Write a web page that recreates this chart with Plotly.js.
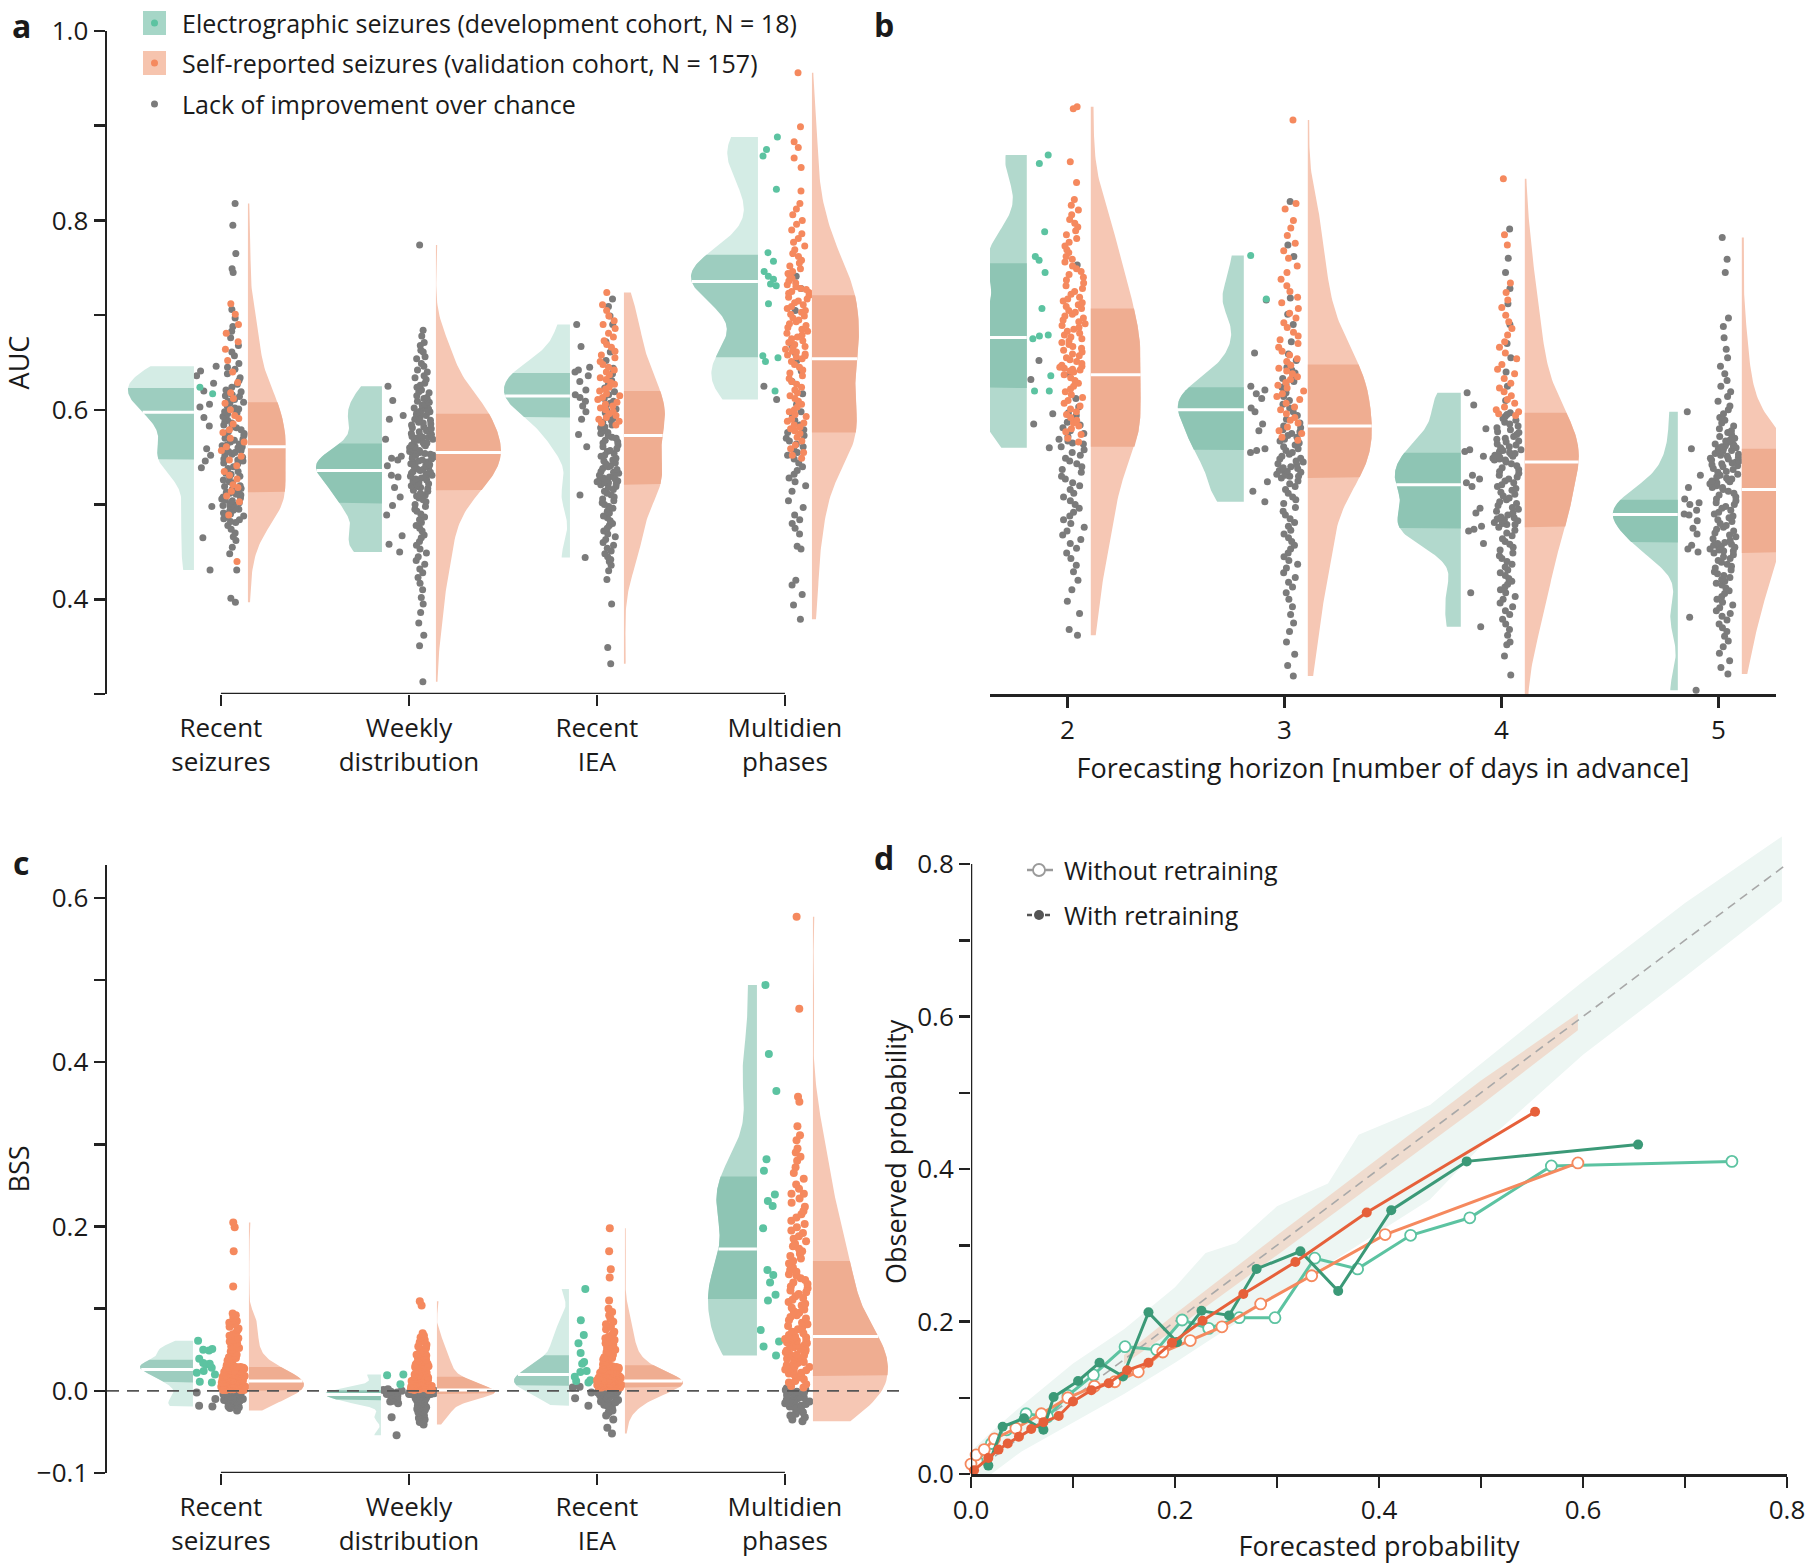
<!DOCTYPE html>
<html><head><meta charset="utf-8">
<script src="https://cdn.plot.ly/plotly-3.0.1.min.js"></script>
<style>html,body{margin:0;padding:0;background:#fff;}#chart{width:1812px;height:1567px;}</style>
</head><body><div id="chart"></div>
<script>
// ---------------- DATA ----------------
const CAT_LABELS = ['Recent<br>seizures','Weekly<br>distribution','Recent<br>IEA','Multidien<br>phases'];
const HORIZONS = [2,3,4,5];

// Panel a (AUC by feature); dev = development cohort (N=18), val = validation cohort (N=157)
// *_sig = improvement over chance, *_ns = lack of improvement over chance
const a_rs_dev_sig = [0.624,0.617];
const a_rs_dev_ns = [0.646,0.641,0.636,0.628,0.620,0.606,0.603,0.592,0.583,0.559,0.552,0.546,0.539,0.498,0.465,0.431];
const a_rs_val_sig = [0.712,0.701,0.690,0.681,0.672,0.664,0.652,0.640,0.629,0.618,0.612,0.607,0.600,0.594,0.591,0.585,0.579,0.576,0.570,0.566,0.561,0.557,0.551,0.547,0.541,0.535,0.531,0.527,0.521,0.518,0.514,0.509,0.503,0.489,0.440];
const a_rs_val_ns = [0.818,0.795,0.765,0.749,0.745,0.706,0.697,0.688,0.683,0.676,0.668,0.661,0.657,0.649,0.645,0.643,0.638,0.634,0.631,0.627,0.624,0.621,0.619,0.616,0.615,0.614,0.611,0.609,0.608,0.607,0.604,0.602,0.601,0.599,0.598,0.597,0.596,0.593,0.591,0.589,0.588,0.586,0.584,0.582,0.581,0.579,0.577,0.575,0.574,0.573,0.570,0.569,0.568,0.566,0.564,0.563,0.562,0.561,0.560,0.558,0.557,0.556,0.555,0.553,0.552,0.550,0.548,0.547,0.546,0.544,0.543,0.540,0.538,0.535,0.533,0.532,0.530,0.529,0.526,0.524,0.523,0.520,0.519,0.517,0.516,0.515,0.513,0.512,0.511,0.510,0.508,0.507,0.506,0.505,0.504,0.502,0.501,0.500,0.499,0.498,0.496,0.495,0.494,0.493,0.491,0.490,0.488,0.487,0.485,0.484,0.482,0.481,0.478,0.474,0.470,0.466,0.462,0.455,0.448,0.431,0.401,0.397];

const a_wk_dev_sig = [];
const a_wk_dev_ns = [0.625,0.610,0.594,0.590,0.569,0.551,0.549,0.547,0.541,0.531,0.529,0.518,0.508,0.499,0.489,0.467,0.458,0.450];
const a_wk_val_sig = [];
const a_wk_val_ns = [0.774,0.684,0.678,0.671,0.668,0.663,0.661,0.656,0.654,0.649,0.646,0.642,0.640,0.636,0.634,0.632,0.628,0.626,0.624,0.621,0.619,0.618,0.615,0.613,0.612,0.611,0.609,0.608,0.606,0.605,0.605,0.603,0.602,0.601,0.600,0.599,0.598,0.598,0.597,0.596,0.595,0.594,0.592,0.591,0.590,0.589,0.587,0.586,0.585,0.584,0.582,0.581,0.580,0.579,0.578,0.577,0.575,0.574,0.573,0.572,0.571,0.570,0.569,0.568,0.567,0.566,0.565,0.564,0.563,0.562,0.561,0.560,0.559,0.558,0.558,0.557,0.556,0.555,0.554,0.553,0.552,0.551,0.550,0.549,0.548,0.547,0.546,0.545,0.544,0.543,0.542,0.541,0.540,0.539,0.538,0.537,0.536,0.535,0.534,0.533,0.532,0.531,0.530,0.529,0.528,0.527,0.526,0.525,0.523,0.522,0.521,0.520,0.519,0.518,0.517,0.515,0.514,0.512,0.510,0.509,0.507,0.505,0.503,0.500,0.498,0.495,0.493,0.490,0.487,0.484,0.481,0.478,0.475,0.472,0.468,0.465,0.461,0.457,0.453,0.449,0.445,0.441,0.437,0.432,0.428,0.423,0.417,0.410,0.402,0.395,0.386,0.375,0.362,0.351,0.313,0.552,0.571];

const a_iea_dev_sig = [];
const a_iea_dev_ns = [0.690,0.667,0.645,0.642,0.640,0.636,0.630,0.621,0.616,0.613,0.609,0.604,0.598,0.590,0.574,0.561,0.510,0.444];
const a_iea_val_sig = [0.724,0.711,0.705,0.699,0.694,0.690,0.686,0.681,0.677,0.673,0.669,0.666,0.662,0.658,0.655,0.651,0.648,0.645,0.642,0.640,0.637,0.634,0.632,0.629,0.627,0.624,0.622,0.620,0.617,0.615,0.613,0.611,0.608,0.606,0.604,0.602,0.600,0.598,0.596,0.594,0.592,0.590,0.588,0.586,0.584];
const a_iea_val_ns = [0.717,0.709,0.699,0.690,0.672,0.661,0.652,0.644,0.638,0.631,0.627,0.623,0.619,0.616,0.612,0.609,0.607,0.605,0.601,0.599,0.597,0.593,0.591,0.589,0.587,0.584,0.582,0.581,0.579,0.578,0.577,0.576,0.575,0.573,0.571,0.570,0.568,0.566,0.565,0.563,0.561,0.559,0.557,0.556,0.554,0.552,0.551,0.549,0.547,0.546,0.544,0.543,0.541,0.540,0.538,0.537,0.535,0.534,0.533,0.531,0.530,0.529,0.528,0.527,0.526,0.526,0.525,0.524,0.524,0.523,0.523,0.522,0.521,0.519,0.518,0.516,0.514,0.512,0.510,0.508,0.506,0.504,0.502,0.500,0.498,0.496,0.493,0.491,0.488,0.486,0.483,0.480,0.478,0.475,0.472,0.469,0.466,0.463,0.460,0.457,0.454,0.451,0.448,0.445,0.442,0.440,0.436,0.430,0.421,0.395,0.349,0.332];

const a_md_dev_sig = [0.888,0.875,0.868,0.833,0.766,0.757,0.746,0.741,0.738,0.733,0.731,0.712,0.657,0.655,0.651,0.620];
const a_md_dev_ns = [0.625,0.611];
const a_md_val_sig = [0.956,0.899,0.883,0.877,0.866,0.856,0.831,0.818,0.812,0.806,0.800,0.796,0.790,0.786,0.781,0.777,0.773,0.769,0.765,0.762,0.758,0.755,0.752,0.749,0.746,0.744,0.741,0.739,0.736,0.734,0.732,0.730,0.728,0.727,0.725,0.724,0.723,0.721,0.719,0.717,0.715,0.713,0.711,0.709,0.707,0.705,0.703,0.701,0.699,0.697,0.695,0.693,0.691,0.689,0.687,0.685,0.683,0.681,0.679,0.677,0.675,0.673,0.671,0.669,0.667,0.665,0.664,0.662,0.661,0.659,0.658,0.657,0.656,0.654,0.651,0.648,0.645,0.642,0.639,0.636,0.633,0.630,0.627,0.624,0.621,0.618,0.615,0.612,0.609,0.606,0.603,0.600,0.598,0.595,0.593,0.590,0.588,0.586,0.584,0.582,0.580,0.578,0.575,0.571,0.567,0.563,0.559,0.555,0.552,0.549];
const a_md_val_ns = [0.741,0.728,0.705,0.668,0.660,0.652,0.641,0.630,0.617,0.606,0.598,0.593,0.589,0.584,0.579,0.576,0.573,0.570,0.567,0.564,0.561,0.558,0.555,0.552,0.548,0.544,0.540,0.536,0.532,0.528,0.524,0.520,0.514,0.504,0.497,0.489,0.484,0.480,0.475,0.469,0.456,0.453,0.420,0.415,0.405,0.394,0.379];

// Panel b (AUC by forecasting horizon)
const b_h2_dev_sig = [0.869,0.860,0.788,0.762,0.758,0.745,0.707,0.679,0.678,0.675,0.636,0.620,0.620];
const b_h2_dev_ns = [0.652,0.632,0.596,0.585,0.560];
const b_h2_val_sig = [0.920,0.918,0.862,0.840,0.822,0.816,0.811,0.806,0.801,0.797,0.793,0.789,0.785,0.781,0.777,0.773,0.769,0.766,0.762,0.759,0.756,0.752,0.749,0.746,0.743,0.740,0.737,0.734,0.731,0.728,0.725,0.722,0.719,0.717,0.715,0.713,0.711,0.709,0.707,0.705,0.703,0.701,0.699,0.697,0.695,0.693,0.691,0.689,0.687,0.685,0.683,0.681,0.679,0.677,0.675,0.673,0.671,0.669,0.667,0.665,0.663,0.661,0.659,0.657,0.655,0.653,0.651,0.649,0.647,0.646,0.645,0.644,0.643,0.642,0.641,0.640,0.637,0.634,0.631,0.628,0.625,0.622,0.619,0.616,0.613,0.610,0.607,0.604,0.601,0.598,0.595,0.592,0.589,0.586,0.583,0.580,0.577,0.574,0.570,0.566];
const b_h2_val_ns = [0.753,0.638,0.612,0.603,0.597,0.594,0.590,0.587,0.584,0.581,0.578,0.575,0.572,0.569,0.567,0.565,0.564,0.561,0.558,0.555,0.552,0.549,0.546,0.543,0.540,0.537,0.534,0.530,0.527,0.523,0.520,0.516,0.512,0.508,0.504,0.500,0.496,0.492,0.488,0.484,0.480,0.476,0.472,0.468,0.463,0.459,0.454,0.449,0.443,0.436,0.429,0.420,0.410,0.398,0.385,0.368,0.362];

const b_h3_dev_sig = [0.763,0.717];
const b_h3_dev_ns = [0.716,0.660,0.625,0.621,0.617,0.612,0.602,0.598,0.585,0.578,0.559,0.557,0.555,0.524,0.514,0.503];
const b_h3_val_sig = [0.906,0.818,0.812,0.800,0.792,0.784,0.776,0.768,0.760,0.752,0.745,0.738,0.731,0.725,0.719,0.713,0.707,0.702,0.697,0.692,0.687,0.682,0.678,0.674,0.670,0.666,0.662,0.658,0.654,0.651,0.647,0.644,0.641,0.638,0.635,0.632,0.629,0.626,0.623,0.620,0.617,0.614,0.611,0.607,0.603,0.600,0.596,0.592,0.589,0.586,0.582,0.578,0.575,0.571,0.568];
const b_h3_val_ns = [0.820,0.774,0.762,0.718,0.701,0.690,0.672,0.659,0.652,0.648,0.645,0.642,0.639,0.636,0.633,0.630,0.627,0.624,0.621,0.618,0.614,0.610,0.606,0.602,0.598,0.594,0.590,0.586,0.583,0.581,0.579,0.577,0.575,0.573,0.571,0.569,0.567,0.565,0.563,0.561,0.559,0.557,0.555,0.553,0.551,0.549,0.548,0.546,0.545,0.543,0.542,0.540,0.539,0.538,0.536,0.535,0.534,0.533,0.532,0.531,0.530,0.530,0.528,0.525,0.522,0.519,0.516,0.512,0.508,0.505,0.501,0.497,0.493,0.489,0.485,0.481,0.477,0.473,0.469,0.465,0.461,0.457,0.453,0.449,0.445,0.441,0.437,0.433,0.428,0.423,0.418,0.413,0.407,0.400,0.392,0.384,0.375,0.366,0.355,0.342,0.330,0.319];

const b_h4_dev_sig = [];
const b_h4_dev_ns = [0.618,0.605,0.580,0.558,0.556,0.551,0.531,0.527,0.523,0.519,0.496,0.491,0.477,0.474,0.472,0.459,0.407,0.371];
const b_h4_val_sig = [0.844,0.785,0.774,0.734,0.724,0.716,0.708,0.700,0.693,0.686,0.679,0.672,0.666,0.660,0.654,0.648,0.643,0.638,0.633,0.628,0.623,0.619,0.615,0.611,0.607,0.603,0.600,0.598,0.596,0.594];
const b_h4_val_ns = [0.791,0.760,0.745,0.728,0.712,0.690,0.670,0.655,0.640,0.625,0.610,0.597,0.595,0.593,0.591,0.589,0.587,0.585,0.583,0.581,0.579,0.577,0.576,0.574,0.572,0.570,0.569,0.567,0.566,0.564,0.563,0.561,0.560,0.558,0.557,0.556,0.555,0.554,0.553,0.552,0.551,0.550,0.549,0.549,0.548,0.548,0.547,0.547,0.545,0.543,0.541,0.539,0.537,0.535,0.533,0.531,0.529,0.527,0.525,0.523,0.521,0.519,0.517,0.515,0.513,0.511,0.509,0.507,0.505,0.503,0.501,0.499,0.497,0.495,0.493,0.491,0.489,0.487,0.486,0.485,0.484,0.483,0.482,0.481,0.480,0.479,0.479,0.476,0.473,0.470,0.467,0.464,0.461,0.458,0.455,0.452,0.449,0.446,0.443,0.440,0.437,0.434,0.431,0.428,0.425,0.422,0.419,0.416,0.413,0.410,0.407,0.403,0.400,0.396,0.392,0.388,0.384,0.379,0.374,0.368,0.362,0.355,0.352,0.340,0.320,0.290,0.250];

const b_h5_dev_sig = [];
const b_h5_dev_ns = [0.598,0.559,0.531,0.518,0.506,0.502,0.500,0.494,0.490,0.489,0.483,0.475,0.469,0.457,0.453,0.450,0.381,0.304];
const b_h5_val_sig = [];
const b_h5_val_ns = [0.782,0.759,0.745,0.697,0.688,0.676,0.664,0.655,0.646,0.638,0.631,0.625,0.619,0.614,0.609,0.604,0.600,0.596,0.592,0.589,0.586,0.583,0.580,0.578,0.576,0.574,0.572,0.570,0.568,0.567,0.566,0.565,0.564,0.563,0.562,0.561,0.561,0.560,0.560,0.559,0.558,0.557,0.556,0.555,0.554,0.553,0.552,0.551,0.550,0.549,0.548,0.547,0.546,0.545,0.544,0.543,0.542,0.541,0.540,0.538,0.537,0.535,0.534,0.532,0.531,0.529,0.528,0.527,0.526,0.525,0.524,0.523,0.522,0.521,0.520,0.519,0.518,0.518,0.516,0.514,0.512,0.510,0.508,0.506,0.504,0.502,0.500,0.498,0.496,0.494,0.492,0.490,0.488,0.486,0.484,0.482,0.480,0.478,0.476,0.474,0.472,0.470,0.468,0.466,0.464,0.462,0.460,0.459,0.458,0.457,0.456,0.455,0.454,0.453,0.452,0.451,0.451,0.449,0.447,0.445,0.443,0.441,0.439,0.437,0.435,0.433,0.431,0.429,0.427,0.425,0.423,0.421,0.419,0.417,0.415,0.412,0.409,0.406,0.403,0.400,0.397,0.394,0.391,0.388,0.385,0.382,0.378,0.374,0.370,0.366,0.361,0.356,0.350,0.343,0.335,0.328,0.321];

// Panel c (BSS by feature)
const c_rs_dev_sig = [0.061,0.051,0.050,0.049,0.039,0.034,0.033,0.032,0.028,0.024,0.022,0.020,0.011,0.010];
const c_rs_dev_ns = [-0.002,-0.010,-0.018,-0.019];
const c_rs_val_sig = [0.205,0.199,0.170,0.127,0.094,0.092,0.089,0.087,0.085,0.083,0.081,0.078,0.076,0.074,0.071,0.069,0.067,0.064,0.062,0.060,0.058,0.056,0.054,0.052,0.050,0.048,0.046,0.044,0.043,0.041,0.040,0.038,0.037,0.035,0.034,0.033,0.032,0.031,0.030,0.029,0.029,0.028,0.028,0.027,0.027,0.026,0.026,0.025,0.025,0.024,0.024,0.023,0.023,0.022,0.022,0.021,0.021,0.020,0.020,0.019,0.019,0.019,0.018,0.018,0.017,0.017,0.016,0.016,0.016,0.015,0.015,0.014,0.014,0.014,0.013,0.013,0.013,0.012,0.012,0.012,0.012,0.011,0.011,0.011,0.011,0.010,0.010,0.010,0.010,0.009,0.009,0.009,0.008,0.008,0.008,0.007,0.007,0.007,0.006,0.006,0.006,0.005,0.005,0.005,0.004,0.004,0.004,0.003,0.003,0.003,0.002,0.002,0.002,0.001,0.001,0.001,0.001];
const c_rs_val_ns = [0.000,-0.001,-0.001,-0.001,-0.002,-0.002,-0.003,-0.003,-0.003,-0.004,-0.004,-0.005,-0.005,-0.005,-0.006,-0.006,-0.006,-0.007,-0.007,-0.008,-0.008,-0.009,-0.009,-0.010,-0.010,-0.011,-0.011,-0.012,-0.012,-0.013,-0.013,-0.014,-0.015,-0.016,-0.017,-0.018,-0.019,-0.020,-0.021,-0.024];

const c_wk_dev_sig = [0.020,0.019,0.008];
const c_wk_dev_ns = [0.002,0.001,0.000,-0.001,-0.002,-0.004,-0.005,-0.006,-0.008,-0.010,-0.012,-0.013,-0.015,-0.032,-0.054];
const c_wk_val_sig = [0.109,0.104,0.070,0.067,0.065,0.062,0.059,0.056,0.054,0.052,0.050,0.048,0.046,0.045,0.044,0.043,0.041,0.040,0.038,0.037,0.036,0.035,0.034,0.033,0.032,0.031,0.030,0.029,0.028,0.027,0.026,0.025,0.024,0.023,0.022,0.021,0.020,0.019,0.018,0.017,0.017,0.016,0.016,0.015,0.015,0.014,0.014,0.013,0.013,0.012,0.012,0.011,0.011,0.010,0.010,0.010,0.009,0.009,0.008,0.008,0.007,0.007,0.006,0.006,0.006,0.005,0.005,0.005,0.004,0.004,0.004,0.003,0.003,0.003,0.002,0.002,0.002,0.001,0.001,0.001];
const c_wk_val_ns = [0.000,0.000,0.000,0.000,-0.001,-0.001,-0.001,-0.001,-0.001,-0.001,-0.002,-0.002,-0.002,-0.002,-0.002,-0.002,-0.002,-0.002,-0.003,-0.003,-0.003,-0.003,-0.003,-0.003,-0.003,-0.003,-0.003,-0.003,-0.004,-0.004,-0.004,-0.004,-0.004,-0.004,-0.004,-0.004,-0.004,-0.004,-0.005,-0.005,-0.006,-0.006,-0.007,-0.007,-0.008,-0.008,-0.009,-0.009,-0.010,-0.010,-0.011,-0.011,-0.012,-0.012,-0.013,-0.014,-0.015,-0.016,-0.017,-0.018,-0.019,-0.020,-0.021,-0.022,-0.023,-0.024,-0.025,-0.026,-0.027,-0.028,-0.029,-0.030,-0.031,-0.033,-0.035,-0.038,-0.041];

const c_iea_dev_sig = [0.124,0.086,0.068,0.058,0.046,0.035,0.033,0.024,0.023,0.017,0.013,0.012,0.010];
const c_iea_dev_ns = [0.005,0.004,-0.002,-0.009,-0.018];
const c_iea_val_sig = [0.198,0.170,0.148,0.138,0.110,0.100,0.096,0.092,0.088,0.084,0.081,0.078,0.075,0.072,0.070,0.068,0.066,0.064,0.062,0.060,0.058,0.056,0.054,0.052,0.050,0.048,0.047,0.046,0.044,0.042,0.041,0.040,0.039,0.038,0.036,0.035,0.034,0.033,0.032,0.031,0.030,0.029,0.029,0.028,0.027,0.027,0.026,0.025,0.025,0.024,0.023,0.023,0.022,0.022,0.021,0.021,0.020,0.020,0.019,0.019,0.018,0.018,0.017,0.017,0.016,0.016,0.016,0.015,0.015,0.015,0.014,0.014,0.014,0.013,0.013,0.013,0.013,0.013,0.012,0.012,0.012,0.012,0.012,0.011,0.011,0.011,0.011,0.011,0.010,0.010,0.010,0.010,0.010,0.009,0.009,0.009,0.009,0.009,0.008,0.008,0.008,0.008,0.007,0.007,0.007,0.007,0.006,0.006,0.006,0.006,0.005,0.005,0.005,0.005,0.004,0.004,0.004,0.004];
const c_iea_val_ns = [0.003,0.002,0.002,0.001,0.001,0.000,0.000,-0.001,-0.001,-0.002,-0.002,-0.003,-0.003,-0.004,-0.004,-0.005,-0.005,-0.006,-0.006,-0.007,-0.008,-0.009,-0.010,-0.011,-0.012,-0.013,-0.014,-0.015,-0.016,-0.017,-0.018,-0.020,-0.022,-0.024,-0.026,-0.030,-0.035,-0.045,-0.052];

const c_md_dev_sig = [0.494,0.410,0.365,0.282,0.268,0.239,0.231,0.225,0.198,0.147,0.141,0.132,0.117,0.110,0.074,0.060,0.054,0.043];
const c_md_dev_ns = [];
const c_md_val_sig = [0.577,0.465,0.358,0.352,0.322,0.311,0.305,0.295,0.290,0.285,0.280,0.272,0.265,0.258,0.251,0.246,0.240,0.240,0.234,0.229,0.224,0.219,0.215,0.211,0.207,0.203,0.199,0.195,0.192,0.188,0.185,0.182,0.179,0.176,0.173,0.170,0.167,0.164,0.161,0.158,0.155,0.152,0.150,0.147,0.145,0.142,0.140,0.137,0.135,0.132,0.130,0.127,0.125,0.122,0.120,0.118,0.115,0.113,0.111,0.108,0.106,0.104,0.101,0.099,0.097,0.095,0.092,0.090,0.088,0.086,0.083,0.081,0.079,0.077,0.075,0.072,0.070,0.068,0.066,0.065,0.064,0.063,0.062,0.061,0.060,0.059,0.058,0.056,0.055,0.054,0.053,0.051,0.050,0.049,0.048,0.047,0.045,0.044,0.043,0.042,0.040,0.039,0.038,0.036,0.035,0.034,0.033,0.031,0.030,0.029,0.027,0.026,0.025,0.024,0.022,0.021,0.020,0.018,0.016,0.014,0.012,0.010,0.008,0.006,0.004];
const c_md_val_ns = [0.003,0.002,0.001,0.000,-0.001,-0.002,-0.003,-0.004,-0.005,-0.006,-0.007,-0.008,-0.009,-0.010,-0.011,-0.012,-0.013,-0.014,-0.015,-0.016,-0.017,-0.018,-0.019,-0.020,-0.022,-0.024,-0.026,-0.028,-0.030,-0.032,-0.035,-0.037];

// Panel d (calibration)
const d_dev_wo_x = [0.006,0.020,0.035,0.054,0.075,0.095,0.120,0.151,0.182,0.207,0.233,0.263,0.298,0.337,0.379,0.431,0.489,0.569,0.746];
const d_dev_wo_y = [0.017,0.040,0.058,0.079,0.075,0.103,0.130,0.167,0.163,0.202,0.191,0.205,0.205,0.283,0.269,0.313,0.336,0.404,0.410];
const d_dev_w_x = [0.017,0.031,0.052,0.071,0.081,0.105,0.126,0.149,0.174,0.202,0.226,0.253,0.280,0.323,0.360,0.412,0.486,0.654];
const d_dev_w_y = [0.011,0.062,0.073,0.058,0.101,0.122,0.146,0.128,0.212,0.173,0.214,0.208,0.269,0.292,0.240,0.346,0.410,0.432];
const d_val_wo_x = [0.000,0.005,0.013,0.023,0.044,0.069,0.095,0.121,0.141,0.164,0.188,0.215,0.246,0.284,0.334,0.406,0.595];
const d_val_wo_y = [0.013,0.025,0.032,0.046,0.060,0.079,0.100,0.115,0.121,0.134,0.160,0.175,0.193,0.223,0.260,0.314,0.408];
const d_val_w_x = [0.003,0.017,0.027,0.036,0.047,0.059,0.071,0.086,0.100,0.118,0.135,0.153,0.174,0.197,0.227,0.267,0.318,0.388,0.553];
const d_val_w_y = [0.005,0.021,0.032,0.040,0.049,0.059,0.068,0.076,0.095,0.110,0.119,0.136,0.146,0.172,0.201,0.236,0.278,0.343,0.475];
const d_band_x = [0,0.02,0.05,0.1,0.15,0.2,0.23,0.26,0.3,0.35,0.38,0.45,0.5,0.6,0.7,0.795];
const d_band_hi = [0.03,0.055,0.09,0.145,0.19,0.245,0.29,0.303,0.351,0.381,0.445,0.484,0.538,0.646,0.749,0.836];
const d_band_lo = [0.0,0.0,0.03,0.068,0.105,0.146,0.172,0.198,0.237,0.275,0.3,0.36,0.43,0.55,0.652,0.751];
const d_cal_x = [0.15,0.2,0.3,0.4,0.5,0.595];
const d_cal_hi = [0.156,0.21,0.313,0.415,0.516,0.604];
const d_cal_lo = [0.144,0.19,0.287,0.385,0.484,0.582];
const d_diag = [0,0.8];

// ---------------- STYLE ----------------
const W = 1812, H = 1567;
const fx = p => p / W, fy = p => 1 - p / H;
const FONT = '"Open Sans", "Noto Sans", sans-serif';
const INK = '#1a1a1a';
const COL = {teal:'#5cc3a1', orange:'#f5895e', gray:'#7b7b7b', oLight:'#f6c7b4', oDark:'#efad91',
  tL1:'#d4ece5', tD1:'#9dcdbf', tL2:'#b2d9cd', tD2:'#8ec5b4',
  dTeal:'#3b9977', red:'#e6603a'};
const BW_DEV = 0.55, BW_VAL = 0.8;   // kernel bandwidth factors (relative to Scott's rule)

const PA = {xa:'x', ya:'y', ppu:188, gap:27, offset:0, pos:[0,1,2,3], msize:7,
  tealW:[66,66,66,67], orangeW:[38,65,41,47],
  tL:[COL.tL1,COL.tL2,COL.tL1,COL.tL1], tD:[COL.tD1,COL.tD2,COL.tD1,COL.tD1]};
const PB = {xa:'x2', ya:'y2', ppu:217, gap:32, offset:-0.04, pos:HORIZONS, msize:7,
  tealW:[66,66,66,65], orangeW:[50,64,54,51],
  tL:[COL.tL2,COL.tL2,COL.tL2,COL.tL2], tD:[COL.tD2,COL.tD2,COL.tD2,COL.tD2]};
const PC = {xa:'x3', ya:'y3', ppu:188, gap:28, offset:0, pos:[0,1,2,3], msize:8,
  tealW:[53,56,55,49], orangeW:[55,58,58,75],
  tL:[COL.tL1,COL.tL1,COL.tL1,COL.tL2], tD:[COL.tD1,COL.tD2,COL.tD1,COL.tD2]};

const groupsA = [
  {devSig:a_rs_dev_sig, devNs:a_rs_dev_ns, valSig:a_rs_val_sig, valNs:a_rs_val_ns},
  {devSig:a_wk_dev_sig, devNs:a_wk_dev_ns, valSig:a_wk_val_sig, valNs:a_wk_val_ns},
  {devSig:a_iea_dev_sig, devNs:a_iea_dev_ns, valSig:a_iea_val_sig, valNs:a_iea_val_ns},
  {devSig:a_md_dev_sig, devNs:a_md_dev_ns, valSig:a_md_val_sig, valNs:a_md_val_ns}];
const groupsB = [
  {devSig:b_h2_dev_sig, devNs:b_h2_dev_ns, valSig:b_h2_val_sig, valNs:b_h2_val_ns},
  {devSig:b_h3_dev_sig, devNs:b_h3_dev_ns, valSig:b_h3_val_sig, valNs:b_h3_val_ns},
  {devSig:b_h4_dev_sig, devNs:b_h4_dev_ns, valSig:b_h4_val_sig, valNs:b_h4_val_ns},
  {devSig:b_h5_dev_sig, devNs:b_h5_dev_ns, valSig:b_h5_val_sig, valNs:b_h5_val_ns}];
const groupsC = [
  {devSig:c_rs_dev_sig, devNs:c_rs_dev_ns, valSig:c_rs_val_sig, valNs:c_rs_val_ns},
  {devSig:c_wk_dev_sig, devNs:c_wk_dev_ns, valSig:c_wk_val_sig, valNs:c_wk_val_ns},
  {devSig:c_iea_dev_sig, devNs:c_iea_dev_ns, valSig:c_iea_val_sig, valNs:c_iea_val_ns},
  {devSig:c_md_dev_sig, devNs:c_md_dev_ns, valSig:c_md_val_sig, valNs:c_md_val_ns}];

function quant(s, p) { const i = p*(s.length-1), lo = Math.floor(i), hi = Math.ceil(i); return s[lo] + (s[hi]-s[lo])*(i-lo); }

function violin(tr, P, vals, edge, side, maxW, light, dark, bwFactor) {
  const s = vals.slice().sort((a,b)=>a-b), n = s.length;
  const mean = s.reduce((a,b)=>a+b,0)/n;
  const sd = Math.sqrt(s.reduce((a,b)=>a+(b-mean)*(b-mean),0)/(n-1));
  const bw = sd * Math.pow(n, -0.2) * bwFactor;
  const dens = y => { let t = 0; for (const v of s) { const z = (y-v)/bw; t += Math.exp(-0.5*z*z); } return t; };
  const lo = s[0], hi = s[n-1];
  let dmax = 0; for (let k=0;k<=300;k++) dmax = Math.max(dmax, dens(lo+(hi-lo)*k/300));
  const wAt = y => maxW * dens(y) / dmax;
  const outline = (a, b) => { const xs=[edge], ys=[a]; const M=160;
    for (let k=0;k<=M;k++){ const y=a+(b-a)*k/M; xs.push(edge+side*wAt(y)); ys.push(y); }
    xs.push(edge); ys.push(b); return {xs, ys}; };
  const common = {type:'scatter', mode:'lines', xaxis:P.xa, yaxis:P.ya, hoverinfo:'skip', showlegend:false};
  const f = outline(lo, hi);
  tr.push(Object.assign({x:f.xs, y:f.ys, fill:'toself', fillcolor:light, line:{width:0, color:light}}, common));
  const q1 = quant(s,0.25), med = quant(s,0.5), q3 = quant(s,0.75);
  const iq = outline(q1, q3);
  tr.push(Object.assign({x:iq.xs, y:iq.ys, fill:'toself', fillcolor:dark, line:{width:0, color:dark}}, common));
  tr.push(Object.assign({x:[edge, edge+side*wAt(med)], y:[med, med], line:{color:'#ffffff', width:3}}, common));
}

function points(tr, P, pos, width, vals, color) {
  if (!vals.length) return;
  tr.push({type:'box', x: vals.map(()=>pos), y: vals, xaxis:P.xa, yaxis:P.ya, width: width,
    boxpoints:'all', jitter:1, pointpos:0, whiskerwidth:0,
    fillcolor:'rgba(0,0,0,0)', line:{width:0, color:'rgba(0,0,0,0)'},
    marker:{color:color, size:P.msize, line:{width:0}}, hoverinfo:'y', showlegend:false});
}

function panel(tr, P, groups) {
  const u = 1/P.ppu;
  groups.forEach((g, i) => {
    const c = P.pos[i] + P.offset;
    const tEdge = c - P.gap*u, oEdge = c + P.gap*u;
    violin(tr, P, g.devSig.concat(g.devNs), tEdge, -1, P.tealW[i]*u, P.tL[i], P.tD[i], BW_DEV);
    violin(tr, P, g.valSig.concat(g.valNs), oEdge, 1, P.orangeW[i]*u, COL.oLight, COL.oDark, BW_VAL);
    const dPos = c - (P.gap+1)/2*u, dW = (P.gap-5)*u;
    const vPos = c + (P.gap-2)/2*u, vW = (P.gap-2)*u;
    points(tr, P, dPos, dW, g.devNs, COL.gray);
    points(tr, P, dPos, dW, g.devSig, COL.teal);
    points(tr, P, vPos, vW, g.valNs, COL.gray);
    points(tr, P, vPos, vW, g.valSig, COL.orange);
  });
}

const traces = [];
panel(traces, PA, groupsA);
panel(traces, PB, groupsB);
panel(traces, PC, groupsC);

// panel d
const dAx = {xaxis:'x4', yaxis:'y4', hoverinfo:'skip', showlegend:false};
traces.push(Object.assign({type:'scatter', mode:'lines', x:d_band_x.concat(d_band_x.slice().reverse()),
  y:d_band_hi.concat(d_band_lo.slice().reverse()), fill:'toself', fillcolor:'#edf6f3', line:{width:0}}, dAx));
traces.push(Object.assign({type:'scatter', mode:'lines', x:d_cal_x.concat(d_cal_x.slice().reverse()),
  y:d_cal_hi.concat(d_cal_lo.slice().reverse()), fill:'toself', fillcolor:'#efdccf', line:{width:0}}, dAx));
traces.push(Object.assign({type:'scatter', mode:'lines', x:d_diag, y:d_diag, line:{color:'#a8a8a8', width:1.6, dash:'9px,6px'}}, dAx));
function calLine(x, y, color, open) {
  traces.push(Object.assign({type:'scatter', mode:'lines+markers', x:x, y:y, cliponaxis:false,
    line:{color:color, width:3},
    marker: open ? {symbol:'circle', size:11, color:'#ffffff', line:{color:color, width:1.8}}
                 : {symbol:'circle', size:10, color:color, line:{width:0}}}, dAx, {hoverinfo:'x+y'}));
}
calLine(d_dev_wo_x, d_dev_wo_y, COL.teal, true);
calLine(d_val_wo_x, d_val_wo_y, COL.orange, true);
calLine(d_dev_w_x, d_dev_w_y, COL.dTeal, false);
calLine(d_val_w_x, d_val_w_y, COL.red, false);

// ---------------- LAYOUT ----------------
const tickFont = {family:FONT, size:26, color:INK};
const base = {showgrid:false, zeroline:false, ticks:'outside', ticklen:11, tickwidth:2.5, tickcolor:'#222',
  linecolor:'#222', linewidth:2.5, tickfont:tickFont, fixedrange:true};
const titleFont = {family:FONT, size:27, color:INK};
const yTicksAUC = [0.3,0.4,0.5,0.6,0.7,0.8,0.9,1.0];
const yTextAUC = ['','0.4','','0.6','','0.8','','1.0'];
const yTicksBSS = [-0.1,0,0.1,0.2,0.3,0.4,0.5,0.6];
const yTextBSS = ['\u22120.1','0.0','','0.2','','0.4','','0.6'];
const pTicks = [0,0.1,0.2,0.3,0.4,0.5,0.6,0.7,0.8];
const pText = ['0.0','','0.2','','0.4','','0.6','','0.8'];
const domAx = [fx(107), fx(903)], domAy = [fy(694), fy(31)];
const rangeAC = [-0.606, 3.628];
const legFont = {family:FONT, size:25, color:INK};
const letterFont = {family:FONT, size:32, color:INK};

const layout = {
  width:W, height:H, margin:{l:0,r:0,t:0,b:0}, paper_bgcolor:'#ffffff', plot_bgcolor:'rgba(0,0,0,0)',
  font:{family:FONT, size:24, color:INK}, showlegend:false, boxmode:'overlay',
  xaxis: Object.assign({}, base, {domain:domAx, range:rangeAC, anchor:'y', tickmode:'array', tickvals:[0,1,2,3], ticktext:CAT_LABELS, showline:false}),
  yaxis: Object.assign({}, base, {domain:domAy, range:[0.3,1.0], anchor:'x', tickmode:'array', tickvals:yTicksAUC, ticktext:yTextAUC, showline:true,
    title:{text:'AUC', font:titleFont, standoff:16}}),
  xaxis2: Object.assign({}, base, {domain:[fx(990), fx(1776)], range:[1.643,5.265], anchor:'y2', tickmode:'array', tickvals:HORIZONS, showline:true,
    title:{text:'Forecasting horizon [number of days in advance]', font:titleFont, standoff:14}}),
  yaxis2: Object.assign({}, base, {domain:domAy, range:[0.3,1.0], anchor:'x2', visible:false}),
  xaxis3: Object.assign({}, base, {domain:domAx, range:rangeAC, anchor:'y3', tickmode:'array', tickvals:[0,1,2,3], ticktext:CAT_LABELS, showline:false}),
  yaxis3: Object.assign({}, base, {domain:[fy(1473), fy(865)], range:[-0.1,0.64], anchor:'x3', tickmode:'array', tickvals:yTicksBSS, ticktext:yTextBSS, showline:true,
    title:{text:'BSS', font:titleFont, standoff:14}}),
  xaxis4: Object.assign({}, base, {domain:[fx(971), fx(1787)], range:[0,0.8], anchor:'y4', tickmode:'array', tickvals:pTicks, ticktext:pText, showline:true,
    title:{text:'Forecasted probability', font:titleFont, standoff:8}}),
  yaxis4: Object.assign({}, base, {domain:[fy(1474), fy(829.7)], range:[0,0.845], anchor:'x4', tickmode:'array', tickvals:pTicks, ticktext:pText, showline:false,
    title:{text:'Observed probability', font:titleFont, standoff:2}}),
  shapes: [
    {type:'line', xref:'x', yref:'y', x0:0, x1:3, y0:0.3, y1:0.3, line:{color:'#222', width:2.5}},
    {type:'line', xref:'x3', yref:'y3', x0:0, x1:3, y0:-0.1, y1:-0.1, line:{color:'#222', width:2.5}},
    {type:'line', xref:'x3', yref:'y3', x0:rangeAC[0], x1:rangeAC[1], y0:0, y1:0, layer:'above', line:{color:'#555', width:1.8, dash:'12px,8px'}},
    {type:'line', xref:'x4', yref:'y4', x0:0, x1:0, y0:0, y1:0.8, line:{color:'#222', width:2.5}},
    // legend a
    {type:'rect', xref:'paper', yref:'paper', x0:fx(143), x1:fx(166), y0:fy(35), y1:fy(11), fillcolor:'#a6d6c7', line:{width:0}},
    {type:'circle', xref:'paper', yref:'paper', x0:fx(151), x1:fx(158), y0:fy(26.5), y1:fy(19.5), fillcolor:COL.teal, line:{width:0}},
    {type:'rect', xref:'paper', yref:'paper', x0:fx(143), x1:fx(166), y0:fy(75), y1:fy(51), fillcolor:'#f6c4ae', line:{width:0}},
    {type:'circle', xref:'paper', yref:'paper', x0:fx(151), x1:fx(158), y0:fy(66.5), y1:fy(59.5), fillcolor:COL.orange, line:{width:0}},
    {type:'circle', xref:'paper', yref:'paper', x0:fx(151), x1:fx(158), y0:fy(107.5), y1:fy(100.5), fillcolor:COL.gray, line:{width:0}},
    // legend d
    {type:'line', xref:'paper', yref:'paper', x0:fx(1027), x1:fx(1053), y0:fy(870), y1:fy(870), line:{color:'#9a9a9a', width:2.5}},
    {type:'circle', xref:'paper', yref:'paper', x0:fx(1033), x1:fx(1045), y0:fy(876), y1:fy(864), fillcolor:'#ffffff', line:{color:'#9a9a9a', width:1.8}},
    {type:'line', xref:'paper', yref:'paper', x0:fx(1027), x1:fx(1053), y0:fy(915), y1:fy(915), line:{color:'#555555', width:2.5, dash:'5px,4px'}},
    {type:'circle', xref:'paper', yref:'paper', x0:fx(1034), x1:fx(1044), y0:fy(920), y1:fy(910), fillcolor:'#555555', line:{width:0}}
  ],
  annotations: [
    {text:'<b>a</b>', xref:'paper', yref:'paper', x:fx(21), y:fy(26), xanchor:'center', yanchor:'middle', showarrow:false, font:letterFont},
    {text:'<b>b</b>', xref:'paper', yref:'paper', x:fx(884), y:fy(24), xanchor:'center', yanchor:'middle', showarrow:false, font:letterFont},
    {text:'<b>c</b>', xref:'paper', yref:'paper', x:fx(21), y:fy(862), xanchor:'center', yanchor:'middle', showarrow:false, font:letterFont},
    {text:'<b>d</b>', xref:'paper', yref:'paper', x:fx(884), y:fy(858), xanchor:'center', yanchor:'middle', showarrow:false, font:letterFont},
    {text:'Electrographic seizures (development cohort, N = 18)', xref:'paper', yref:'paper', x:fx(180), y:fy(23), xanchor:'left', yanchor:'middle', showarrow:false, font:legFont},
    {text:'Self-reported seizures (validation cohort, N = 157)', xref:'paper', yref:'paper', x:fx(180), y:fy(63), xanchor:'left', yanchor:'middle', showarrow:false, font:legFont},
    {text:'Lack of improvement over chance', xref:'paper', yref:'paper', x:fx(180), y:fy(104), xanchor:'left', yanchor:'middle', showarrow:false, font:legFont},
    {text:'Without retraining', xref:'paper', yref:'paper', x:fx(1062), y:fy(870), xanchor:'left', yanchor:'middle', showarrow:false, font:legFont},
    {text:'With retraining', xref:'paper', yref:'paper', x:fx(1062), y:fy(915), xanchor:'left', yanchor:'middle', showarrow:false, font:legFont}
  ]
};

Plotly.newPlot('chart', traces, layout, {staticPlot:true, displayModeBar:false});
</script></body></html>
